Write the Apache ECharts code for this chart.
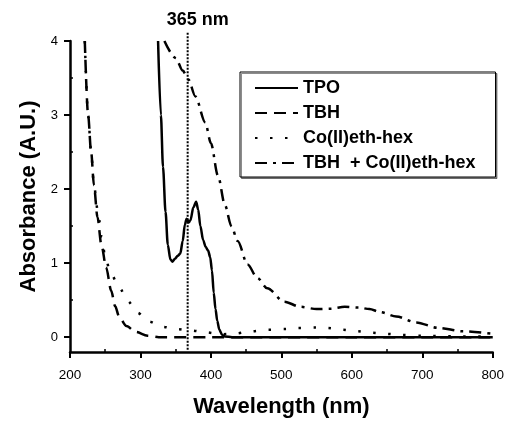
<!DOCTYPE html>
<html>
<head>
<meta charset="utf-8">
<script src="https://cdn.jsdelivr.net/npm/echarts@6/dist/echarts.min.js"></script>
<style>
html,body{margin:0;padding:0;background:#fff;}
#main{width:507px;height:423px;}
</style>
</head>
<body>
<div id="main"></div>
<script>
// tick positions
var xMajorTicks = [200, 300, 400, 500, 600, 700, 800];
var xMinorTicks = [250, 350, 450, 550, 650, 750];
var yMajorTicks = [0, 1, 2, 3, 4];
var yMinorTicks = [0.5, 1.5, 2.5, 3.5];

// TPO (solid)
var tpoWl  = [325, 329, 332, 335.6, 338.8, 342.5, 345.5, 349, 353, 356.5, 360, 363, 365.5, 368.5, 371, 375, 379, 382, 385, 389, 392.5, 396, 399, 401.5, 404, 406.5, 409, 412, 416, 420, 430, 500, 600, 700, 800];
var tpoAbs = [4.0, 3.0, 2.3, 1.69, 1.25, 1.05, 1.02, 1.06, 1.1, 1.13, 1.3, 1.52, 1.6, 1.55, 1.58, 1.75, 1.83, 1.72, 1.5, 1.31, 1.22, 1.17, 1.08, 0.9, 0.6, 0.38, 0.22, 0.1, 0.03, 0.01, 0, 0, 0, 0, 0];

// TBH (dashed)
var tbhWl  = [221, 225.7, 230, 234, 239, 244.5, 251.4, 258.4, 264, 270, 280, 293.5, 310, 326, 400, 500, 600, 700, 800];
var tbhAbs = [4.0, 3.0, 2.5, 2.05, 1.62, 1.25, 0.94, 0.63, 0.42, 0.27, 0.15, 0.07, 0.02, 0, 0, 0, 0, 0, 0];

// Co(II)eth-hex (dotted)
var coWl  = [221, 225.7, 230, 234, 239.7, 245, 250.5, 258.4, 270, 281.8, 295.8, 312, 331, 352, 372, 391.7, 415, 434, 457, 480.5, 504, 523, 546, 565, 586, 607, 628, 649, 670, 700, 750, 800];
var coAbs = [4.0, 3.0, 2.5, 2.05, 1.69, 1.35, 1.05, 0.85, 0.67, 0.49, 0.33, 0.21, 0.14, 0.11, 0.09, 0.067, 0.04, 0.05, 0.08, 0.1, 0.11, 0.125, 0.13, 0.125, 0.1, 0.08, 0.06, 0.045, 0.03, 0.02, 0.01, 0.01];

// TBH + Co(II)eth-hex (dash-dot)
var mixWl  = [334, 350, 360, 368, 378, 392, 400, 410, 420, 429, 438, 452, 466, 480, 504, 527, 550, 570, 590, 610, 625, 640, 663, 691, 723, 757, 800];
var mixAbs = [4.0, 3.77, 3.6, 3.48, 3.25, 2.9, 2.62, 2.18, 1.78, 1.5, 1.3, 0.98, 0.8, 0.66, 0.48, 0.41, 0.38, 0.385, 0.41, 0.4, 0.38, 0.34, 0.28, 0.2, 0.125, 0.08, 0.045];

// 365 nm marker line
var markWl  = [367, 367];
var markAbs = [-0.17, 4.12];

var FONT = "'Liberation Sans', Arial, sans-serif";

function pairs(xs, ys){
	var out = [];
	for(var i = 0; i < xs.length; i++){
		out.push([xs[i], ys[i]]);
	}
	return out;
}

function curve(name, xs, ys, type){
	return {
		name: name,
		type: "line",
		data: pairs(xs, ys),
		showSymbol: false,
		symbol: "none",
		smooth: 0.3,
		smoothMonotone: "x",
		clip: true,
		lineStyle: {color: "#000", width: 2.5, type: type},
		itemStyle: {color: "#000"},
		z: 3
	};
}

var chart = echarts.init(document.getElementById("main"), null, {renderer: "canvas"});

var markData = pairs(markWl, markAbs);
markData[1] = {
	value: markData[1],
	label: {
		show: true,
		position: "top",
		distance: 3,
		offset: [10, 0],
		formatter: "365 nm",
		color: "#000",
		fontFamily: FONT,
		fontWeight: "bold",
		fontSize: 18
	}
};

var option = {
	animation: false,
	backgroundColor: "#fff",
	grid: {left: 70, right: 9, top: 41, bottom: 68, containLabel: false},
	legend: {
		orient: "vertical",
		left: 240,
		top: 72,
		data: ["TPO", "TBH", "Co(II)eth-hex", "TBH  + Co(II)eth-hex"],
		itemWidth: 43,
		itemHeight: 15,
		itemGap: 7,
		padding: [7, 20, 5, 14],
		borderColor: "#000",
		borderWidth: 1,
		borderRadius: 0,
		shadowColor: "rgba(0,0,0,0.45)",
		shadowOffsetX: 1.5,
		shadowOffsetY: 1.5,
		shadowBlur: 0,
		backgroundColor: "#fff",
		// hide the symbol in the legend icon, keep only the line
		itemStyle: {opacity: 0},
		textStyle: {color: "#000", fontFamily: FONT, fontWeight: "bold", fontSize: 18, lineHeight: 18}
	},
	xAxis: [{
		type: "value",
		min: 200,
		max: 800,
		interval: 100,
		name: "Wavelength (nm)",
		nameLocation: "middle",
		nameGap: 44,
		nameTextStyle: {color: "#000", fontFamily: FONT, fontWeight: "bold", fontSize: 22},
		axisLine: {show: true, onZero: false, lineStyle: {color: "#000", width: 2.5}},
		axisTick: {show: true, inside: false, length: 6, lineStyle: {color: "#000", width: 2}},
		axisLabel: {color: "#000", fontFamily: FONT, fontSize: 13.5, margin: 16},
		splitLine: {show: false}
	}, {
		// minor ticks, pointing inward
		type: "value",
		min: 200,
		max: 800,
		position: "bottom",
		axisLine: {show: false, onZero: false},
		axisLabel: {show: false},
		axisTick: {show: true, inside: true, length: 3, customValues: xMinorTicks, lineStyle: {color: "#000", width: 1.5}},
		splitLine: {show: false}
	}],
	yAxis: [{
		type: "value",
		min: -0.2,
		max: 4,
		name: "Absorbance (A.U.)",
		nameLocation: "middle",
		nameGap: 29,
		nameTextStyle: {color: "#000", fontFamily: FONT, fontWeight: "bold", fontSize: 22},
		axisLine: {show: true, onZero: false, lineStyle: {color: "#000", width: 2.5}},
		axisTick: {show: true, inside: false, length: 6, customValues: yMajorTicks, lineStyle: {color: "#000", width: 2}},
		axisLabel: {color: "#000", fontFamily: FONT, fontSize: 13, margin: 12, customValues: yMajorTicks},
		splitLine: {show: false}
	}, {
		type: "value",
		min: -0.2,
		max: 4,
		position: "left",
		axisLine: {show: false, onZero: false},
		axisLabel: {show: false},
		axisTick: {show: true, inside: true, length: 3, customValues: yMinorTicks, lineStyle: {color: "#000", width: 1.5}},
		splitLine: {show: false}
	}],
	series: [
		curve("TPO", tpoWl, tpoAbs, "solid"),
		curve("TBH", tbhWl, tbhAbs, [12, 7]),
		curve("Co(II)eth-hex", coWl, coAbs, [2.5, 12.5]),
		curve("TBH  + Co(II)eth-hex", mixWl, mixAbs, [12, 6, 3, 6]),
		{
			name: "365",
			type: "line",
			data: markData,
			symbol: "circle",
			symbolSize: 0.01,
			showSymbol: true,
			clip: false,
			silent: true,
			lineStyle: {color: "#000", width: 2, type: [2, 1.5]},
			itemStyle: {color: "#000"},
			z: 2
		}
	]
};
chart.setOption(option);
</script>
</body>
</html>
